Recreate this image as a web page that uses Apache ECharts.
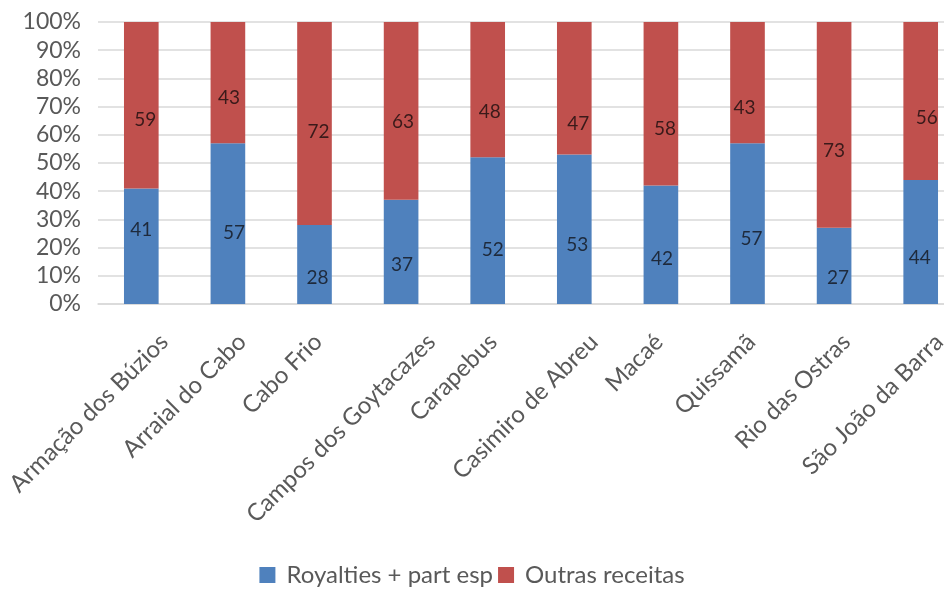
<!DOCTYPE html>
<html>
<head>
<meta charset="utf-8">
<script src="https://cdn.jsdelivr.net/npm/echarts@6/dist/echarts.min.js"></script>
<style>
  html, body { margin: 0; padding: 0; background: #fff; }
  #chart { width: 944px; height: 589px; }
</style>
</head>
<body>
<div id="chart"></div>
<script>
// Municipalities
const categories = [
  'Armação dos Búzios', 'Arraial do Cabo', 'Cabo Frio', 'Campos dos Goytacazes',
  'Carapebus', 'Casimiro de Abreu', 'Macaé', 'Quissamã', 'Rio das Ostras', 'São João da Barra'
];
// Share of revenue (%)
const royalties = [41, 57, 28, 37, 52, 53, 42, 57, 27, 44];
const outras    = [59, 43, 72, 63, 48, 47, 58, 43, 73, 56];
const seriesNames = ['Royalties + part esp', 'Outras receitas'];
const yTicks = [0, 10, 20, 30, 40, 50, 60, 70, 80, 90, 100];

// Hand-placed nudges for the value labels inside each segment [dx, dy]
const royaltiesLabelNudge = [[0,-16],[6,9],[3,13],[1,13],[5,19],[3,16],[1,14],[4,15],[4,12],[-1,16]];
const outrasLabelNudge    = [[4,15],[1,15],[4,8],[2,11],[2,22],[4,36],[4,25],[-3,25],[0,26],[6,17]];

const FONT = 'Lato, "Open Sans", sans-serif';
const AXIS_COLOR = '#595959';
const X_FONT_SIZE = 24;

const chart = echarts.init(document.getElementById('chart'), null, { renderer: 'canvas' });

function segment(values, nudges) {
  return values.map((v, i) => ({
    value: v,
    label: { offset: nudges[i] }
  }));
}

chart.setOption({
  animation: false,
  backgroundColor: '#ffffff',
  textStyle: { fontFamily: FONT },
  // the plot runs past the right edge of the canvas
  grid: {
    left: 98, width: 866, top: 22, bottom: 285,
    containLabel: false,
    outerBoundsMode: 'none'
  },
  legend: {
    data: seriesNames,
    left: 'center',
    top: 563,
    padding: 0,
    itemWidth: 16,
    itemHeight: 16,
    itemGap: 5,
    icon: 'rect',
    textStyle: { fontFamily: FONT, fontSize: 24, color: AXIS_COLOR, padding: [0, 0, 0, 6] }
  },
  xAxis: {
    type: 'category',
    data: categories,
    axisLine: { show: true, lineStyle: { color: '#d9d9d9', width: 1.5 } },
    axisTick: { show: false },
    axisLabel: { show: false }
  },
  yAxis: {
    type: 'value',
    min: yTicks[0],
    max: yTicks[yTicks.length - 1],
    interval: yTicks[1] - yTicks[0],
    axisLine: { show: false },
    axisTick: { show: false },
    splitLine: { lineStyle: { color: '#d9d9d9', width: 1.5 } },
    axisLabel: {
      formatter: '{value}%',
      margin: 17,
      fontFamily: FONT,
      fontSize: 23,
      color: AXIS_COLOR
    }
  },
  series: [
    {
      name: seriesNames[0],
      type: 'bar',
      stack: 'total',
      barWidth: '40%',
      itemStyle: { color: '#4f81bd' },
      label: { show: true, position: 'inside', fontFamily: FONT, fontSize: 19, color: '#1e2a3c' },
      data: segment(royalties, royaltiesLabelNudge)
    },
    {
      name: seriesNames[1],
      type: 'bar',
      stack: 'total',
      barWidth: '40%',
      itemStyle: { color: '#c0504d' },
      label: { show: true, position: 'inside', fontFamily: FONT, fontSize: 19, color: '#3a1a1a' },
      data: segment(outras, outrasLabelNudge)
    }
  ]
});

// Slanted category names: each one ends a little right of its tick,
// further for longer names, all hanging from the same line under the axis.
const measureCtx = document.createElement('canvas').getContext('2d');
measureCtx.font = X_FONT_SIZE + 'px Lato';
const axisY = chart.convertToPixel({ yAxisIndex: 0 }, 0);
const categoryLabels = categories.map((name) => {
  const tickX = chart.convertToPixel({ xAxisIndex: 0 }, name);
  const w = measureCtx.measureText(name).width;
  const shift = 0.173 * (w - 63);
  return {
    type: 'text',
    x: tickX + shift - 3,
    y: axisY + 34,
    rotation: Math.PI / 4,
    silent: true,
    style: {
      text: name,
      align: 'right',
      verticalAlign: 'middle',
      fontFamily: FONT,
      fontSize: X_FONT_SIZE,
      fill: AXIS_COLOR
    }
  };
});
chart.setOption({ graphic: categoryLabels });
</script>
</body>
</html>
